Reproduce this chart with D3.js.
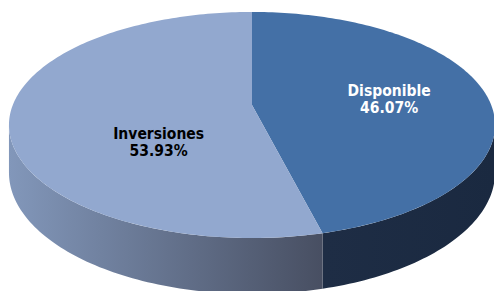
<!DOCTYPE html>
<html>
<head>
<meta charset="utf-8">
<script src="https://cdn.jsdelivr.net/npm/d3@7"></script>
<style>
  html, body { margin: 0; padding: 0; background: #fff; }
  svg { display: block; }
</style>
</head>
<body>
<svg id="chart" width="494" height="291"></svg>
<script>
// data
const categories = ["Disponible", "Inversiones"];
const percents = [46.07, 53.93];
const topColors = ["#4470A6", "#92A8CF"];
const labelColors = ["#ffffff", "#000000"];

// get svg
const svg = d3.select("#chart");

// projection of the tilted disc (simple perspective)
const x0 = 252, y0 = 105;      // projected pie centre
const A = 109.5, B = 239.2;    // vertical / horizontal radii
const e = 0.177;               // perspective strength
const D0 = 46;                 // thickness of the pie

function proj(a, r, h) {
    const X = r * Math.sin(a), Z = r * Math.cos(a);
    const p = 1 / (1 + e * Z);
    return [x0 + B * X * p, y0 - A * Z * p + (h ? D0 * p : 0)];
}

// visible part of the side (silhouette where cos = -e)
const sideStart = Math.acos(-e);
const sideEnd = 2 * Math.PI - sideStart;

// create pie with values
const pie = d3.pie().sort(null).value(d => d.value);
const data = categories.map((c, i) => ({ label: c, value: percents[i], i: i }));
const arcs = pie(data);

const line = d3.line();

function arcPoints(a0, a1, h) {
    const n = Math.max(2, Math.ceil(Math.abs(a1 - a0) / 0.02));
    return d3.range(n + 1).map(k => proj(a0 + (a1 - a0) * k / n, 1, h));
}

// gradients for the side
const defs = svg.append("defs");
const g1 = defs.append("linearGradient").attr("id", "sideInv")
    .attr("gradientUnits", "userSpaceOnUse")
    .attr("x1", 9).attr("y1", 0).attr("x2", 326).attr("y2", 0);
g1.append("stop").attr("offset", "0%").attr("stop-color", "#8297BA");
g1.append("stop").attr("offset", "100%").attr("stop-color", "#474E61");
const g0 = defs.append("linearGradient").attr("id", "sideDisp")
    .attr("gradientUnits", "userSpaceOnUse")
    .attr("x1", 326).attr("y1", 0).attr("x2", 494).attr("y2", 0);
g0.append("stop").attr("offset", "0%").attr("stop-color", "#1E2D45");
g0.append("stop").attr("offset", "100%").attr("stop-color", "#1A2940");
const sideFill = ["url(#sideDisp)", "url(#sideInv)"];

// sides
arcs.forEach(d => {
    const a0 = Math.max(d.startAngle, sideStart);
    const a1 = Math.min(d.endAngle, sideEnd);
    if (a1 <= a0) return;
    const pts = arcPoints(a0, a1, false).concat(arcPoints(a1, a0, true));
    svg.append("path")
        .attr("d", line(pts) + "Z")
        .attr("fill", sideFill[d.data.i]);
});

// top faces
arcs.forEach(d => {
    const pts = [[x0, y0]].concat(arcPoints(d.startAngle, d.endAngle, false));
    svg.append("path")
        .attr("d", line(pts) + "Z")
        .attr("fill", topColors[d.data.i]);
});

// labels
const labelPlace = [[0.585, 0], [0.39, 30]];
arcs.forEach(d => {
    const mid = (d.startAngle + d.endAngle) / 2;
    const lp = labelPlace[d.data.i];
    const c = proj(mid, lp[0], false);
    const t = svg.append("text")
        .attr("text-anchor", "middle")
        .attr("font-family", "'DejaVu Sans Condensed', 'DejaVu Sans', sans-serif")
        .attr("font-weight", "bold")
        .attr("font-size", "15.5px")
        .attr("fill", labelColors[d.data.i]);
    t.append("tspan").attr("x", c[0]).attr("y", c[1] + lp[1] - 1.5).text(d.data.label);
    t.append("tspan").attr("x", c[0]).attr("y", c[1] + lp[1] + 16).text(d3.format(".2f")(d.data.value) + "%");
});
</script>
</body>
</html>
